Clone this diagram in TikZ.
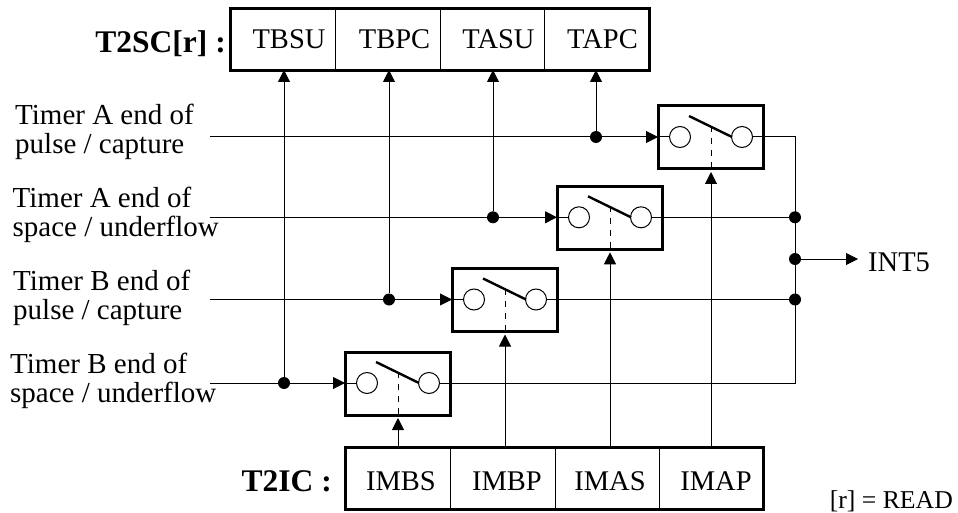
\documentclass[tikz,border=0pt]{standalone}
\usepackage{fontspec}
\setmainfont{Liberation Serif}
\usetikzlibrary{arrows.meta}
\tikzset{
 x=1pt,y=-1pt,
 lbl/.style={inner sep=0pt,font=\fontsize{29}{29}\selectfont,align=left,anchor=west},
 reg/.style={inner sep=0pt,font=\fontsize{28.5}{30}\selectfont,anchor=base},
 title/.style={inner sep=0pt,font=\fontsize{31.5}{32}\selectfont\bfseries,anchor=base east},
 thick box/.style={draw,line width=3pt,inner sep=0pt,outer sep=0pt,minimum width=105pt,minimum height=63pt,anchor=north west},
 regbox/.style={draw,line width=3pt,inner sep=0pt,outer sep=0pt,minimum height=62pt,anchor=north west},
 pole/.style={circle,draw,line width=1pt,minimum size=21pt,inner sep=0pt,fill=white},
 wire/.style={line width=1pt},
 arr/.style={line width=1pt,-{Triangle[length=12pt,width=12pt]}},
 dot/.style={circle,fill=black,inner sep=0pt,minimum size=12pt},
 blade/.style={line width=2.4pt},
 ctl/.style={line width=1pt,dash pattern=on 6pt off 6pt},
}
\newcommand{\swbox}[2]{% name, top-left coordinates
 \node[thick box] (#1) at (#2) {};
 \node[pole] (#1l) at ([shift={(22,31)}]#1.north west) {};
 \node[pole] (#1r) at ([shift={(84,31)}]#1.north west) {};
 \coordinate (#1a) at ([shift={(31,10)}]#1.north west);
 \coordinate (#1b) at ([shift={(74,31)}]#1.north west);
 \draw[blade] (#1a) -- (#1b);
 \coordinate (#1c) at ([shift={(53,20)}]#1.north west);
 \draw[ctl] (#1c) -- (#1c |- #1.south);
}
\begin{document}
\begin{tikzpicture}
\useasboundingbox (0,0) rectangle (958,513);
% registers
\node[regbox,minimum width=419pt] (sc) at (230,9) {};
\foreach \n/\x/\t in {a/289/TBSU,b/394.5/TBPC,c/498.5/TASU,d/602.5/TAPC}
  \node[reg] (sc\n) at (\x,49) {\t};
\node[regbox,minimum width=418pt] (ic) at (345,447) {};
\foreach \n/\x/\t in {a/401/IMBS,b/507/IMBP,c/610/IMAS,d/716/IMAP}
  \node[reg] (ic\n) at (\x,490) {\t};
\foreach \x in {335,440,544} \draw[wire] (\x,9) -- (\x,71);
\foreach \x in {450,555,659} \draw[wire] (\x,447) -- (\x,509);
\node[title] (sct) at (226,53) {T2SC[r] :};
\node[title] (ict) at (332,491) {T2IC :};
% switches
\swbox{s1}{658,106}
\swbox{s2}{557,186.3}
\swbox{s3}{452,268.5}
\swbox{s4}{345,352}
% left labels
\node[lbl] (l1) at (15,131.5) {Timer A end of\\pulse / capture};
\node[lbl] (l2) at (12.5,215) {Timer A end of\\space / underflow};
\node[lbl] (l3) at (13,298) {Timer B end of\\pulse / capture};
\node[lbl] (l4) at (10,380.5) {Timer B end of\\space / underflow};
\node[inner sep=0pt,anchor=base west,font=\fontsize{28.5}{30}\selectfont] (o) at (868,271) {INT5};
\node[inner sep=0pt,anchor=base east,font=\fontsize{25.7}{26}\selectfont] (r) at (953,508) {[r] = READ};
% input wires
\coordinate (i1) at (210,137);
\coordinate (i2) at (210,217.3);
\coordinate (i3) at (210,299.5);
\coordinate (i4) at (210,383);
\node[dot] (d1) at (596,137) {};
\node[dot] (d2) at (493,217.3) {};
\node[dot] (d3) at (389,299.5) {};
\node[dot] (d4) at (284,383) {};
\foreach \k in {1,2,3,4} {
  \draw[arr] (i\k) -- (s\k.west |- i\k);
  \draw[wire] (s\k.west |- i\k) -- (s\k l.west);
}
\draw[arr,shorten >=-1pt] (d1) -- (d1 |- sc.south);
\draw[arr,shorten >=-1pt] (d2) -- (d2 |- sc.south);
\draw[arr,shorten >=-1pt] (d3) -- (d3 |- sc.south);
\draw[arr,shorten >=-1pt] (d4) -- (d4 |- sc.south);
% control
\draw[arr,shorten >=3pt] (s4c |- ic.north) -- (s4c |- s4.south);
\draw[arr,shorten >=3pt] (s3c |- ic.north) -- (s3c |- s3.south);
\draw[arr,shorten >=3pt] (s2c |- ic.north) -- (s2c |- s2.south);
\draw[arr,shorten >=3pt] (s1c |- ic.north) -- (s1c |- s1.south);
% outputs
\coordinate (bus) at (795,259);
\node[dot] (b2) at (bus |- s2r) {};
\node[dot] (b3) at (bus |- s3r) {};
\node[dot] (bo) at (bus) {};
\draw[wire] (s1r.east) -- (bus |- s1r) -- (bus |- s4r) -- (s4r.east);
\draw[wire] (s2r.east) -- (b2);
\draw[wire] (s3r.east) -- (b3);
\coordinate (oe) at (858,259);
\draw[arr] (bo) -- (oe);
\end{tikzpicture}
\end{document}
